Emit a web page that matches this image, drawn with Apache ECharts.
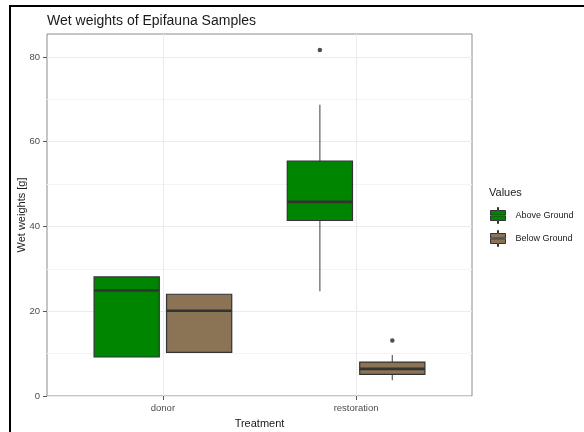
<!DOCTYPE html>
<html>
<head>
<meta charset="utf-8">
<script src="https://cdn.jsdelivr.net/npm/echarts@6/dist/echarts.min.js"></script>
<style>
  html, body { margin: 0; padding: 0; background: #fff; }
  #chart { width: 584px; height: 432px; }
</style>
</head>
<body>
<div id="chart"></div>
<script>
// Treatment groups along the x axis
const categories = ['donor', 'restoration'];
// Fill groups (legend entries)
const groups = ['Above Ground', 'Below Ground'];
// Box statistics per treatment: [lower whisker, Q1, median, Q3, upper whisker]
const aboveStats = [
  [9.2, 9.2, 24.9, 28.1, 28.1],
  [24.7, 41.4, 45.8, 55.4, 68.7]
];
const belowStats = [
  [10.3, 10.3, 20.1, 24.0, 24.0],
  [3.7, 5.1, 6.4, 8.0, 9.7]
];
// Outlying points per treatment
const aboveOutliers = [[], [81.6]];
const belowOutliers = [[], [13.1]];
// Y axis tick labels
const yMajorTicks = [0, 20, 40, 60, 80];
const yMinorTicks = [10, 30, 50, 70];

const fills = ['#008500', '#8b7355'];
const DODGE = 0.1875;      // half of the dodge width for two boxes
const BOX_WIDTH = 0.3375;  // box width in category units
const labelFont = 'Liberation Sans, Arial, sans-serif';

function boxData(stats, side) {
  return stats.map((s, i) => [i + 1 + side * DODGE].concat(s));
}
function outlierData(outs, side) {
  const pts = [];
  outs.forEach((vals, i) => vals.forEach(v => pts.push([i + 1 + side * DODGE, v])));
  return pts;
}

function makeRenderer(fill) {
  return function (params, api) {
    const x = api.value(0);
    const lo = api.coord([x, api.value(1)]);
    const q1 = api.coord([x, api.value(2)]);
    const md = api.coord([x, api.value(3)]);
    const q3 = api.coord([x, api.value(4)]);
    const hi = api.coord([x, api.value(5)]);
    const w = api.size([BOX_WIDTH, 0])[0];
    const whisker = { stroke: '#6a6a6a', lineWidth: 1.3 };
    return {
      type: 'group',
      children: [
        { type: 'line', shape: { x1: hi[0], y1: hi[1], x2: q3[0], y2: q3[1] }, style: whisker },
        { type: 'line', shape: { x1: q1[0], y1: q1[1], x2: lo[0], y2: lo[1] }, style: whisker },
        { type: 'rect', shape: { x: q3[0] - w / 2, y: q3[1], width: w, height: q1[1] - q3[1] },
          style: { fill: fill, stroke: '#333333', lineWidth: 1.2 } },
        { type: 'line', shape: { x1: md[0] - w / 2, y1: md[1], x2: md[0] + w / 2, y2: md[1] },
          style: { stroke: '#333333', lineWidth: 2.6 } }
      ]
    };
  };
}

// Legend key: a small box with a median gap and whisker stubs
const legendIcon = 'path://M7,0H8V3H15V7.6H0V3H7Z M0,8.4H15V13H8V16H7V13H0Z';

const option = {
  animation: false,
  backgroundColor: '#ffffff',
  title: [
    {
      text: 'Wet weights of Epifauna Samples',
      left: 47, top: 14, padding: 0,
      textStyle: { fontFamily: labelFont, fontSize: 14, fontWeight: 'normal', color: '#1a1a1a' }
    },
    {
      text: 'Values',
      left: 489, top: 187, padding: 0,
      textStyle: { fontFamily: labelFont, fontSize: 11, fontWeight: 'normal', color: '#1a1a1a' }
    }
  ],
  legend: {
    orient: 'vertical',
    left: 490, top: 207,
    padding: 0,
    itemWidth: 15, itemHeight: 16, itemGap: 6,
    selectedMode: false,
    textStyle: { fontFamily: labelFont, fontSize: 9, color: '#1a1a1a', padding: [0, 0, 0, 5] },
    data: groups.map((g, i) => ({
      name: g, icon: legendIcon,
      itemStyle: { color: fills[i], borderColor: '#333333', borderWidth: 1 }
    }))
  },
  graphic: [
    { type: 'polyline', silent: true,
      shape: { points: [[10, 440], [10, 6], [590, 6]] },
      style: { stroke: '#000', lineWidth: 2, fill: null } }
  ],
  grid: {
    left: 47, right: 112, top: 34, bottom: 36,
    outerBoundsMode: 'none',
    show: true, borderColor: '#8c8c8c', borderWidth: 1, backgroundColor: '#fff'
  },
  xAxis: {
    type: 'value', min: 0.4, max: 2.6,
    name: 'Treatment', nameLocation: 'middle', nameGap: 22, nameMoveOverlap: false,
    nameTextStyle: { fontFamily: labelFont, fontSize: 11, color: '#1a1a1a' },
    axisLine: { show: false },
    axisTick: { show: true, length: 4, customValues: [1, 2], lineStyle: { color: '#555' } },
    axisLabel: {
      customValues: [1, 2], margin: 7,
      fontFamily: labelFont, fontSize: 9.5, color: '#4d4d4d',
      formatter: v => categories[Math.round(v) - 1]
    },
    splitLine: { show: true, lineStyle: { color: '#ebebeb', width: 1 } }
  },
  yAxis: [
    {
      type: 'value', min: 0, max: 85.4,
      name: 'Wet weights [g]', nameLocation: 'middle', nameGap: 20, nameRotate: 90,
      nameMoveOverlap: false,
      nameTextStyle: { fontFamily: labelFont, fontSize: 11, color: '#1a1a1a' },
      axisLine: { show: false },
      axisTick: { show: true, length: 4, customValues: yMajorTicks, lineStyle: { color: '#555' } },
      axisLabel: {
        customValues: yMajorTicks, margin: 7,
        fontFamily: labelFont, fontSize: 9.5, color: '#4d4d4d'
      },
      splitLine: { show: true, lineStyle: { color: '#ebebeb', width: 1 } }
    },
    {
      type: 'value', min: 0, max: 85.4,
      axisLine: { show: false },
      axisTick: { show: false, customValues: yMinorTicks },
      axisLabel: { show: false, customValues: yMinorTicks },
      splitLine: { show: true, lineStyle: { color: '#f4f4f4', width: 1 } }
    }
  ],
  series: [
    {
      name: groups[0], type: 'custom',
      renderItem: makeRenderer(fills[0]),
      itemStyle: { color: fills[0] },
      encode: { x: 0, y: [1, 2, 3, 4, 5] },
      data: boxData(aboveStats, -1), z: 3
    },
    {
      name: groups[1], type: 'custom',
      renderItem: makeRenderer(fills[1]),
      itemStyle: { color: fills[1] },
      encode: { x: 0, y: [1, 2, 3, 4, 5] },
      data: boxData(belowStats, 1), z: 3
    },
    {
      name: groups[0] + ' outliers', type: 'scatter',
      symbol: 'circle', symbolSize: 4.5,
      itemStyle: { color: '#222' },
      data: outlierData(aboveOutliers, -1), z: 4
    },
    {
      name: groups[1] + ' outliers', type: 'scatter',
      symbol: 'circle', symbolSize: 4.5,
      itemStyle: { color: '#222' },
      data: outlierData(belowOutliers, 1), z: 4
    }
  ]
};

const chart = echarts.init(document.getElementById('chart'), null, { renderer: 'canvas' });
chart.setOption(option);
</script>
</body>
</html>
